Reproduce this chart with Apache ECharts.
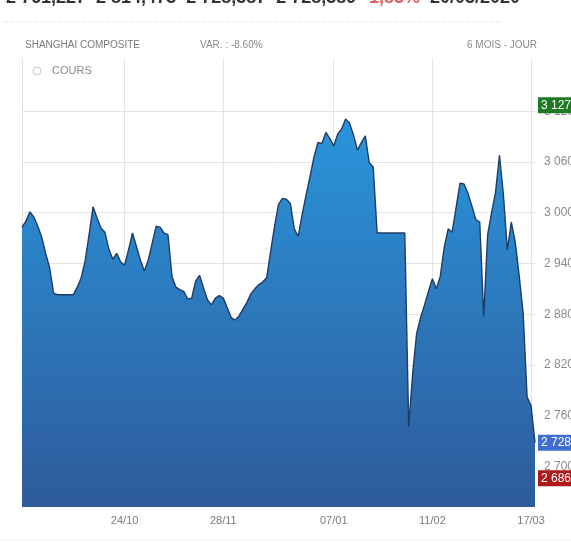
<!DOCTYPE html>
<html><head><meta charset="utf-8">
<script src="https://cdn.jsdelivr.net/npm/echarts@6/dist/echarts.min.js"></script>
<style>html,body{margin:0;padding:0;background:#fff;overflow:hidden}#c{width:571px;height:543px}</style>
</head><body><div id="c"></div>
<script>
// ---- data ----
const startDate = '2019-09-18';
const endDate = '2020-03-18';
const xTickLabels = ['24/10', '28/11', '07/01', '11/02', '17/03'];
const closeValues = [
  2983, 2990, 3001, 2995, 2984, 2971, 2952, 2935, 2905, 2903,
  2903, 2903, 2903, 2903, 2912, 2923, 2943, 2974, 3007, 2994,
  2982, 2977, 2957, 2945, 2952, 2942, 2938, 2956, 2976, 2960,
  2944, 2931, 2944, 2964, 2984, 2983, 2976, 2974, 2925, 2912,
  2909, 2907, 2898, 2899, 2919, 2926, 2911, 2897, 2891, 2899,
  2902, 2899, 2888, 2876, 2873, 2878, 2886, 2894, 2904, 2910,
  2915, 2918, 2923, 2954, 2984, 3010, 3017, 3016, 3011, 2981,
  2972, 2998, 3021, 3043, 3066, 3083, 3082, 3095, 3088, 3079,
  3093, 3099, 3111, 3106, 3092, 3074, 3083, 3091, 3059, 3054,
  2976, 2976, 2976, 2976, 2976, 2976, 2976, 2976, 2747, 2810,
  2857, 2876, 2891, 2907, 2922, 2910, 2925, 2959, 2981, 2977,
  3006, 3035, 3034, 3023, 3008, 2992, 2989, 2877, 2974, 3000,
  3024, 3068, 3021, 2956, 2989, 2965, 2925, 2881, 2782, 2772,
  2728
];
const yTicks = [2700, 2760, 2820, 2880, 2940, 3000, 3060, 3120];
const yMin = 2652, yMax = 3183;
const badgeValues = [3127, 2728, 2686];
const badgeColors = ['#1d7a22', '#3d6fd2', '#b0191c'];
const headerTexts = ['SHANGHAI COMPOSITE', 'VAR. : -8.60%', '6 MOIS - JOUR'];
const legendText = 'COURS';
const topLineTexts = ['2 761,227  2 814,473  2 728,387  2 728,389', '-1,83%', '20/03/2020'];

// weekday categories
const categories = [];
for (let d = new Date(startDate + 'T00:00:00Z'); d <= new Date(endDate + 'T00:00:00Z'); d.setUTCDate(d.getUTCDate() + 1)) {
  const w = d.getUTCDay();
  if (w === 0 || w === 6) continue;
  categories.push(String(d.getUTCDate()).padStart(2, '0') + '/' + String(d.getUTCMonth() + 1).padStart(2, '0'));
}
const fmt = v => String(v).replace(/\B(?=(\d{3})+(?!\d))/g, ' ');
const showTick = (i, v) => xTickLabels.includes(v);
const FONT = '"Liberation Sans", Arial, sans-serif';

const chart = echarts.init(document.getElementById('c'), null, {renderer: 'canvas'});
chart.setOption({
  animation: false,
  backgroundColor: '#ffffff',
  textStyle: {fontFamily: FONT},
  grid: {left: 22, right: 36, top: 58, bottom: 36},
  xAxis: {
    type: 'category', data: categories, boundaryGap: false,
    axisLine: {show: false}, axisTick: {show: false},
    axisLabel: {interval: showTick, color: '#7a7a7a', fontSize: 11, margin: 8, fontFamily: FONT},
    splitLine: {show: true, interval: showTick, lineStyle: {color: '#e4e4e4', width: 1}}
  },
  yAxis: {
    type: 'value', min: yMin, max: yMax, position: 'left',
    axisLine: {show: true, lineStyle: {color: '#e4e4e4'}},
    axisTick: {show: false}, axisLabel: {show: false}, splitLine: {show: false}
  },
  series: [
    {
      type: 'line', data: [], z: 1, silent: true,
      markLine: {
        z: 1,
        symbol: 'none', silent: true, animation: false,
        lineStyle: {color: '#e4e4e4', width: 1, type: 'solid'},
        label: {position: 'end', distance: 9, color: '#8a8a8a', fontSize: 12, fontFamily: FONT,
                formatter: p => fmt(p.value)},
        emphasis: {disabled: true},
        data: yTicks.map(v => ({yAxis: v}))
      }
    },
    {
      type: 'line', data: closeValues, z: 3, showSymbol: false, silent: true,
      lineStyle: {color: '#1f3c66', width: 1.4},
      areaStyle: {
        origin: 'start', opacity: 1,
        color: new echarts.graphic.LinearGradient(0, 0, 0, 1, [
          {offset: 0, color: '#2a95db'},
          {offset: 1, color: '#2e5b9b'}
        ])
      }
    },
    {
      type: 'line', data: [], z: 6, silent: true,
      markLine: {
        z: 6,
        symbol: 'none', silent: true, animation: false,
        lineStyle: {color: 'rgba(0,0,0,0)', width: 0},
        emphasis: {disabled: true},
        data: badgeValues.map((v, i) => ({
          yAxis: v,
          label: {show: true, position: 'end', distance: 3, color: '#ffffff', fontSize: 12, fontFamily: FONT,
                  backgroundColor: badgeColors[i], padding: [2, 3, 2, 3], formatter: fmt(v)}
        }))
      }
    }
  ],
  graphic: [
    {type: 'text', left: 6, top: -11, z: 10, style: {
      text: '{a|' + topLineTexts[0] + '}  {b|' + topLineTexts[1] + '}   {a|' + topLineTexts[2] + '}',
      rich: {
        a: {fontSize: 18, fontWeight: 'bold', fill: '#333333', fontFamily: FONT},
        b: {fontSize: 18, fontWeight: 'bold', fill: '#e06060', fontFamily: FONT}
      }
    }},
    {type: 'line', z: 10, shape: {x1: 4, y1: 22, x2: 500, y2: 22},
     style: {stroke: '#cfcfcf', lineWidth: 1, lineDash: [1, 2]}},
    {type: 'text', left: 25, top: 40, z: 10, style: {text: headerTexts[0], fill: '#7a7a7a', fontSize: 10, fontFamily: FONT}},
    {type: 'text', left: 200, top: 40, z: 10, style: {text: headerTexts[1], fill: '#8a8a8a', fontSize: 10, fontFamily: FONT}},
    {type: 'text', right: 34, top: 40, z: 10, style: {text: headerTexts[2], fill: '#8a8a8a', fontSize: 10, fontFamily: FONT}},
    {type: 'circle', z: 10, shape: {cx: 37, cy: 71, r: 4}, style: {fill: '#fff', stroke: '#c8c8c8', lineWidth: 1}},
    {type: 'text', left: 52, top: 65, z: 10, style: {text: legendText, fill: '#8a8a8a', fontSize: 11, fontFamily: FONT}},
    {type: 'line', z: 10, shape: {x1: 0, y1: 540, x2: 571, y2: 540}, style: {stroke: '#ececec', lineWidth: 1}}
  ]
});
</script>
</body></html>
